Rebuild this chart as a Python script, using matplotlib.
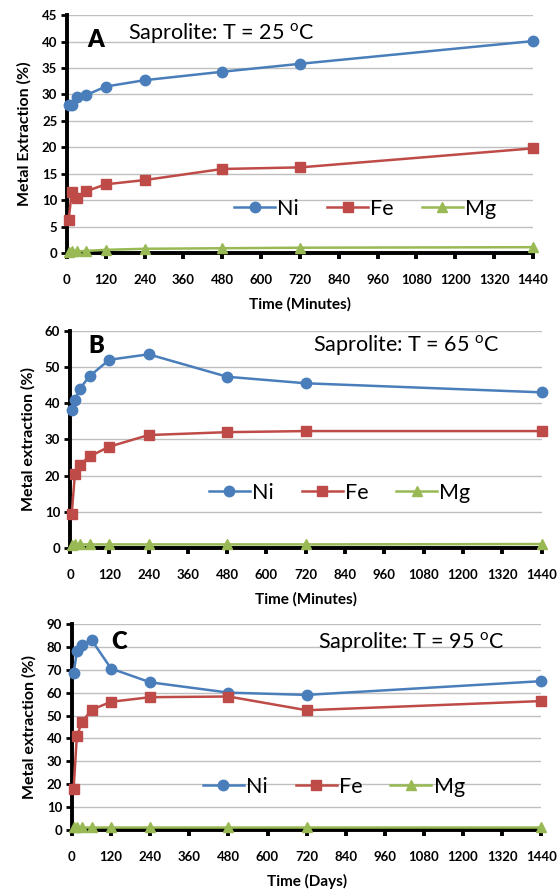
import matplotlib
matplotlib.use("Agg")
import matplotlib.pyplot as plt

plt.rcParams["font.family"] = ["Lato", "DejaVu Sans"]
plt.rcParams["mathtext.fontset"] = "custom"
plt.rcParams["mathtext.rm"] = "Lato"
plt.rcParams["mathtext.it"] = "Lato:italic"
plt.rcParams["mathtext.bf"] = "Lato:bold"

# sampling times shared by all three runs
times = [5, 15, 30, 60, 120, 240, 480, 720, 1440]

ni_25 = [28.0, 28.0, 29.5, 29.9, 31.5, 32.7, 34.3, 35.8, 40.1]
fe_25 = [6.2, 11.6, 10.5, 11.7, 13.0, 13.8, 15.9, 16.2, 19.8]
mg_25 = [0.2, 0.3, 0.3, 0.4, 0.6, 0.8, 0.9, 1.0, 1.1]

ni_65 = [38.0, 41.0, 44.0, 47.5, 52.0, 53.5, 47.3, 45.5, 43.0]
fe_65 = [9.3, 20.5, 23.0, 25.3, 28.0, 31.2, 32.0, 32.3, 32.3]
mg_65 = [0.9, 1.0, 1.0, 1.0, 1.0, 1.0, 1.0, 1.0, 1.1]

ni_95 = [68.5, 78.0, 81.0, 83.0, 70.5, 64.5, 60.0, 59.0, 65.0]
fe_95 = [18.0, 41.0, 47.0, 52.5, 56.0, 58.0, 58.3, 52.3, 56.3]
mg_95 = [1.2, 1.2, 1.2, 1.2, 1.2, 1.2, 1.2, 1.2, 1.2]

x_ticks = list(range(0, 1441, 120))

panels = [
    dict(letter="A", temp="25", ni=ni_25, fe=fe_25, mg=mg_25,
         ymax=45, ystep=5, ylabel="Metal Extraction (%)", xlabel="Time (Minutes)",
         rect=[0.120, 0.717, 0.835, 0.266],
         letter_pos=(0.044, 0.895), title_pos=(0.130, 0.925),
         legend_pos=(0.640, 0.185)),
    dict(letter="B", temp="65", ni=ni_65, fe=fe_65, mg=mg_65,
         ymax=60, ystep=10, ylabel="Metal extraction (%)", xlabel="Time (Minutes)",
         rect=[0.1255, 0.387, 0.845, 0.243],
         letter_pos=(0.038, 0.930), title_pos=(0.515, 0.935),
         legend_pos=(0.572, 0.255)),
    dict(letter="C", temp="95", ni=ni_95, fe=fe_95, mg=mg_95,
         ymax=90, ystep=10, ylabel="Metal extraction (%)", xlabel="Time (Days)",
         rect=[0.129, 0.0716, 0.841, 0.2305],
         letter_pos=(0.084, 0.912), title_pos=(0.525, 0.910),
         legend_pos=(0.558, 0.210)),
]

series_style = [
    ("Ni", "#4A7EBB", "o", 7.5),
    ("Fe", "#BE4B48", "s", 7.0),
    ("Mg", "#98B954", "^", 6.5),
]

fig = plt.figure(figsize=(5.58, 8.94), dpi=100)

for p in panels:
    ax = fig.add_axes(p["rect"])
    for (name, color, marker, ms), values in zip(series_style, (p["ni"], p["fe"], p["mg"])):
        ax.plot(times, values, color=color, marker=marker, markersize=ms,
                linewidth=1.8, label=name, clip_on=False, zorder=3)

    ax.set_xlim(0, 1440)
    ax.set_ylim(0, p["ymax"])
    ax.set_xticks(x_ticks)
    ax.set_yticks(range(0, p["ymax"] + 1, p["ystep"]))
    ax.grid(axis="y", color="#BFBFBF", linewidth=1.0)
    ax.set_axisbelow(True)

    for side in ("top", "right"):
        ax.spines[side].set_visible(False)
    for side in ("left", "bottom"):
        ax.spines[side].set_linewidth(2.8)
        ax.spines[side].set_zorder(2)

    ax.tick_params(axis="x", direction="out", length=4, width=2.8, pad=11,
                   labelsize=9.5)
    ax.tick_params(axis="y", direction="out", length=4, width=2.0, pad=3,
                   labelsize=9.5)
    for lab in ax.get_xticklabels() + ax.get_yticklabels():
        lab.set_fontweight("bold")

    ax.set_ylabel(p["ylabel"], fontsize=11.5, fontweight="bold", labelpad=7)
    ax.set_xlabel(p["xlabel"], fontsize=11, fontweight="bold", labelpad=8)

    ax.text(*p["letter_pos"], p["letter"], transform=ax.transAxes,
            fontsize=17, fontweight="heavy", ha="left", va="center")
    ax.text(*p["title_pos"], f"Saprolite: T = {p['temp']} $^{{\\mathrm{{o}}}}$C",
            transform=ax.transAxes, fontsize=15.5, ha="left", va="center")

    ax.legend(loc="center", bbox_to_anchor=p["legend_pos"], ncol=3,
              frameon=False, fontsize=15.5, handlelength=1.9, handletextpad=0.1,
              columnspacing=1.3, borderaxespad=0)

fig.savefig("out.png", dpi=100)
